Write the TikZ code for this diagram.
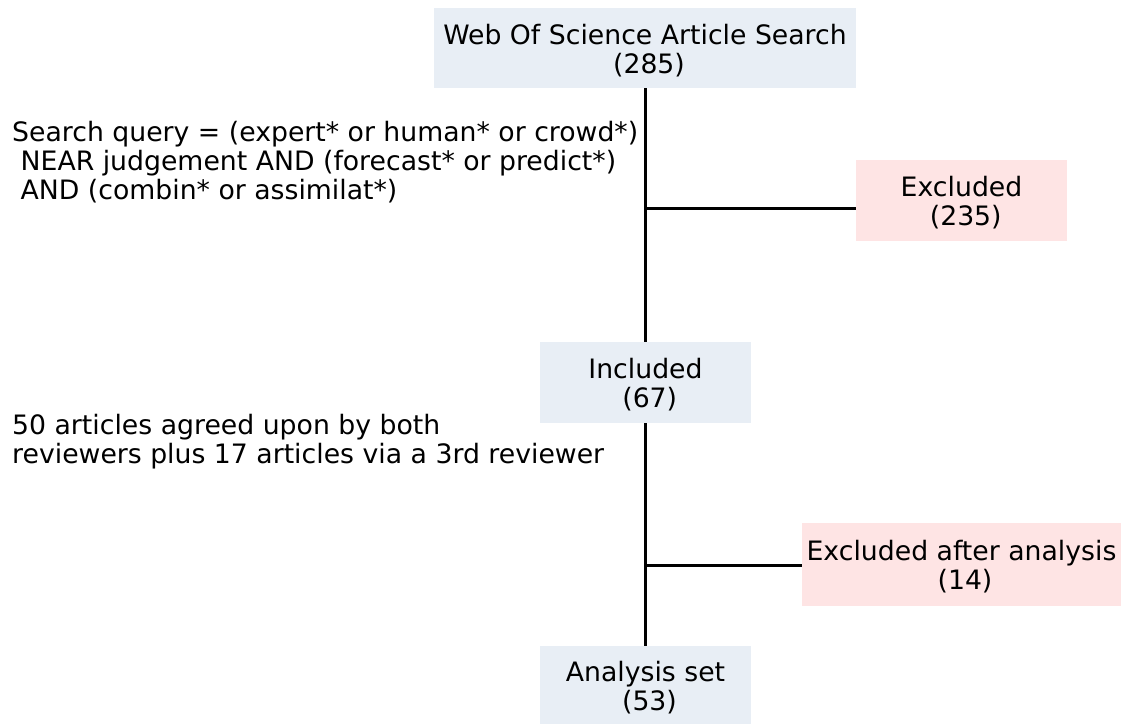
\documentclass[tikz,border=0pt]{standalone}
\usepackage{fontspec}
\setmainfont{DejaVu Sans}
\definecolor{boxblue}{HTML}{E8EEF5}
\definecolor{boxpink}{HTML}{FEE4E4}
\begin{document}
\begin{tikzpicture}[x=1pt,y=-1pt,
  txt/.style={font=\fontsize{26.7}{29}\selectfont, align=center, inner sep=0pt},
  bluebox/.style={fill=boxblue, inner sep=0pt},
  pinkbox/.style={fill=boxpink, inner sep=0pt},
  conn/.style={line width=3pt, black},
  note/.style={font=\fontsize{26.7}{29}\selectfont, align=left, inner sep=0pt, anchor=west}]
\useasboundingbox (0,0) rectangle (1134,724);
\fill[white] (0,0) rectangle (1134,724);
\node[bluebox, minimum width=422pt, minimum height=80pt] (top) at (645,48) {};
\node[pinkbox, minimum width=211pt, minimum height=81pt] (exc1) at (961.5,200.5) {};
\node[bluebox, minimum width=211pt, minimum height=81pt] (inc) at (645.5,382.5) {};
\node[pinkbox, minimum width=319pt, minimum height=83pt] (exc2) at (961.5,564.5) {};
\node[bluebox, minimum width=211pt, minimum height=78pt] (ana) at (645.5,685) {};
\node[txt] (topt) at ([yshift=-2.5pt]top.center) {Web Of Science Article Search\\\hspace*{8pt}(285)};
\node[txt] (exc1t) at ([yshift=-2.5pt]exc1.center) {Excluded\\\mbox{}\ (235)};
\node[txt] (inct) at ([yshift=-2.5pt]inc.center) {Included\\\mbox{}\ (67)};
\node[txt] (exc2t) at ([yshift=-2.5pt]exc2.center) {Excluded after analysis\\\hspace*{7pt}(14)};
\node[txt] (anat) at ([yshift=-2.5pt]ana.center) {Analysis set\\\hspace*{8pt}(53)};
\coordinate (j1) at (645,208);
\coordinate (j2) at (645,565);
\draw[conn] (top.south -| j1) -- (inc.north -| j1);
\draw[conn] (j1) -- (exc1.west |- j1);
\draw[conn] (inc.south -| j2) -- (ana.north -| j2);
\draw[conn] (j2) -- (exc2.west |- j2);
\node[note] (q) at (12,162.5) {Search query = (expert* or human* or crowd*)\\\mbox{}\ NEAR judgement AND (forecast* or predict*)\\\mbox{}\ AND (combin* or assimilat*)};
\node[note] (r) at (12,442) {50 articles agreed upon by both\\reviewers plus 17 articles via a 3rd reviewer};
\end{tikzpicture}
\end{document}
